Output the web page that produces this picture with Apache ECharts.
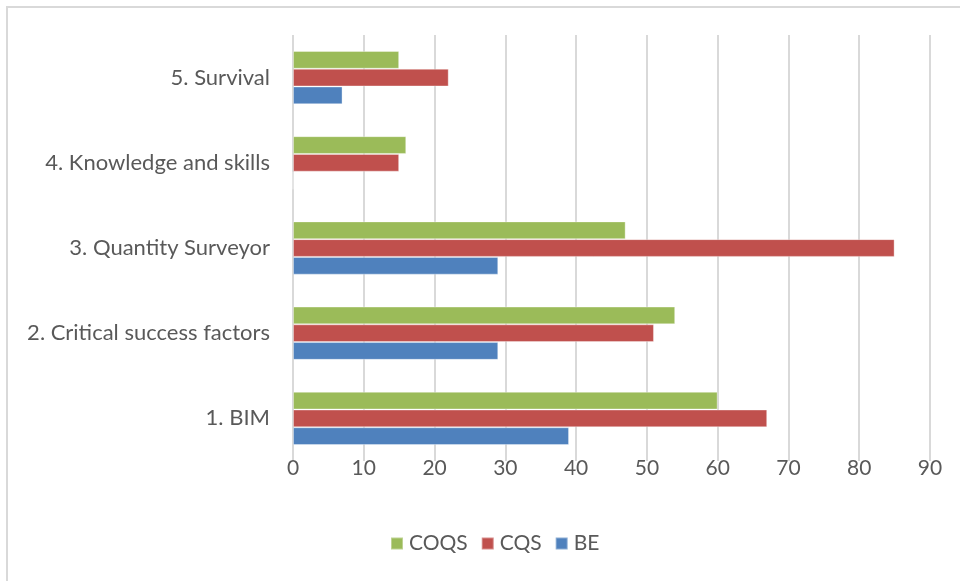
<!DOCTYPE html>
<html>
<head>
<meta charset="utf-8">
<script src="https://cdn.jsdelivr.net/npm/echarts@6/dist/echarts.min.js"></script>
<style>
  html, body { margin: 0; padding: 0; background: #fff; }
  #chart { width: 960px; height: 581px; }
</style>
</head>
<body>
<div id="chart"></div>
<script>
// Topic categories, bottom to top
const categories = ['1. BIM', '2. Critical success factors', '3. Quantity Surveyor', '4. Knowledge and skills', '5. Survival'];
// Counts per group
const beValues   = [39, 29, 29, 0, 7];
const cqsValues  = [67, 51, 85, 15, 22];
const coqsValues = [60, 54, 47, 16, 15];
const xTicks = [0, 10, 20, 30, 40, 50, 60, 70, 80, 90];

const textColor = '#595959';
const fontFamily = 'Lato, "Open Sans", sans-serif';

const chart = echarts.init(document.getElementById('chart'), null, { renderer: 'canvas' });

function barSeries(name, data, color) {
  return {
    name: name,
    type: 'bar',
    data: data,
    barGap: '0%',
    barCategoryGap: '37.5%',
    itemStyle: { color: color, borderColor: 'rgba(255,255,255,0.35)', borderWidth: 1 },
    emphasis: { disabled: true }
  };
}

chart.setOption({
  animation: false,
  backgroundColor: '#fff',
  graphic: [{
    type: 'rect',
    shape: { x: 7, y: 7, width: 1000, height: 620 },
    style: { fill: 'none', stroke: '#d9d9d9', lineWidth: 2 },
    silent: true,
    z: -1
  }],
  grid: { left: 293, right: 30, top: 35, bottom: 120, containLabel: false },
  legend: {
    bottom: 22,
    left: 385,
    itemWidth: 12,
    itemHeight: 12,
    itemGap: 13,
    icon: 'rect',
    data: ['COQS', 'CQS', 'BE'],
    textStyle: { color: textColor, fontSize: 21, fontFamily: fontFamily, padding: [0, 0, 0, 1] }
  },
  xAxis: {
    type: 'value',
    min: xTicks[0],
    max: xTicks[xTicks.length - 1],
    interval: 10,
    axisLine: { show: false },
    axisTick: { show: false },
    splitLine: { show: true, lineStyle: { color: '#d9d9d9', width: 2 } },
    axisLabel: { color: textColor, fontSize: 21, fontFamily: fontFamily, margin: -3 }
  },
  yAxis: {
    type: 'category',
    data: categories,
    axisLine: { show: false },
    axisTick: { show: false },
    axisLabel: { color: textColor, fontSize: 22, fontFamily: fontFamily, margin: 23 }
  },
  series: [
    barSeries('COQS', coqsValues, '#9bbb59'),
    barSeries('CQS', cqsValues, '#c0504d'),
    barSeries('BE', beValues, '#4f81bd')
  ]
});
</script>
</body>
</html>
